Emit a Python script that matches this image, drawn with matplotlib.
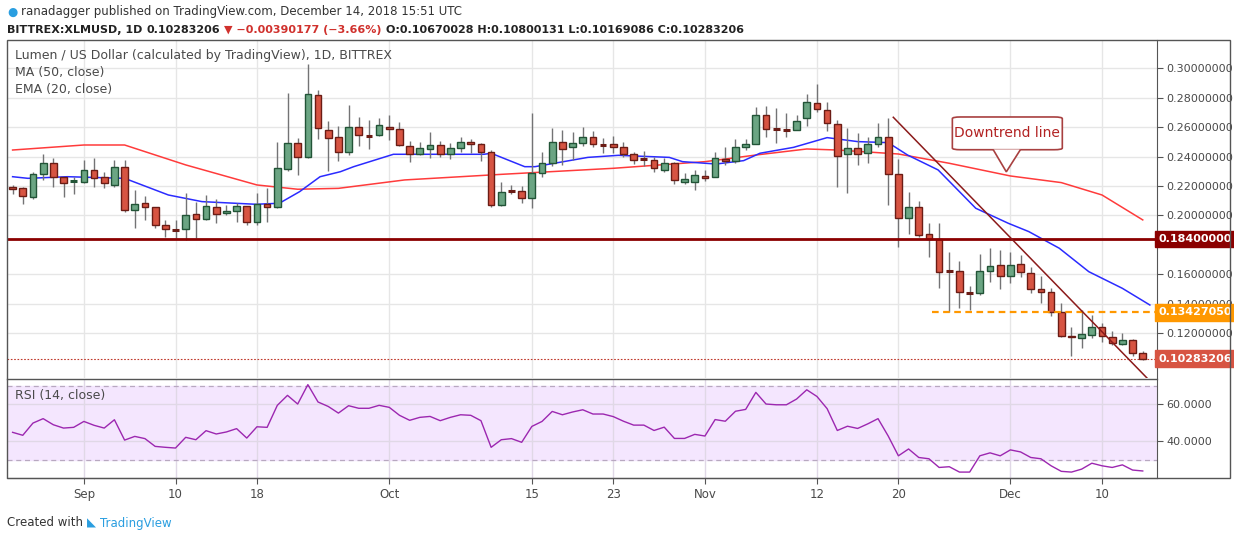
import matplotlib
matplotlib.use('Agg')
import matplotlib.pyplot as plt
from matplotlib.patches import Rectangle, FancyBboxPatch, Polygon
import numpy as np

# ---- data (daily candles, day 0 = Aug 25 2018) --------------------------------
opens = [.2193,.2184,.2123,.2279,.2354,.2259,.2227,.2225,.2309,.2259,
         .2207,.2327,.2037,.2083,.2055,.1933,.1906,.1906,.2010,.1974,
         .2055,.2015,.2033,.2065,.1958,.2078,.2060,.2313,.2489,.2394,
         .2817,.2580,.2535,.2433,.2598,.2541,.2546,.2598,.2584,.2471,
         .2417,.2449,.2476,.2417,.2455,.2501,.2483,.2433,.2069,.2169,
         .2169,.2117,.2286,.2358,.2496,.2462,.2489,.2530,.2480,.2483,
         .2462,.2415,.2383,.2376,.2309,.2354,.2230,.2230,.2268,.2259,
         .2381,.2372,.2462,.2483,.2682,.2591,.2582,.2580,.2659,.2765,
         .2715,.2620,.2417,.2455,.2422,.2485,.2530,.2279,.1981,.2055,
         .1875,.1839,.1628,.1626,.1475,.1472,.1626,.1665,.1592,.1669,
         .1608,.1500,.1479,.1344,.1185,.1167,.1190,.1247,.1179,.1127,
         .1156,.10670028]
highs = [.2207,.2196,.2297,.2417,.2388,.2263,.2263,.2376,.2388,.2297,
         .2376,.2376,.2173,.2132,.2060,.1970,.1970,.2150,.2094,.2139,
         .2110,.2071,.2087,.2065,.2155,.2184,.2501,.2828,.2523,.3030,
         .2851,.2643,.2607,.2749,.2666,.2648,.2659,.2682,.2636,.2505,
         .2501,.2569,.2507,.2489,.2535,.2517,.2494,.2444,.2230,.2207,
         .2200,.2697,.2433,.2591,.2580,.2569,.2602,.2575,.2523,.2539,
         .2501,.2433,.2440,.2399,.2388,.2365,.2290,.2309,.2309,.2433,
         .2462,.2517,.2517,.2738,.2743,.2727,.2697,.2682,.2824,.2892,
         .2772,.2648,.2591,.2562,.2535,.2625,.2659,.2381,.2162,.2101,
         .1947,.1952,.1755,.1692,.1522,.1739,.1778,.1766,.1755,.1732,
         .1649,.1590,.1506,.1409,.1242,.1359,.1325,.1274,.1219,.1206,
         .1161,.10800131]
lows = [.2146,.2076,.2110,.2241,.2196,.2123,.2146,.2223,.2191,.2184,
        .2196,.2026,.1913,.1970,.1913,.1857,.1845,.1834,.1845,.1970,
        .1947,.2004,.1958,.1936,.1936,.1958,.2049,.2304,.2275,.2388,
        .2517,.2304,.2372,.2410,.2471,.2449,.2539,.2512,.2471,.2365,
        .2410,.2388,.2394,.2381,.2433,.2426,.2372,.2060,.2065,.2146,
        .2087,.2049,.2263,.2336,.2343,.2376,.2471,.2462,.2426,.2426,
        .2399,.2349,.2336,.2297,.2297,.2214,.2214,.2173,.2236,.2259,
        .2343,.2358,.2444,.2483,.2535,.2494,.2535,.2580,.2607,.2704,
        .2575,.2196,.2155,.2343,.2354,.2467,.2071,.1784,.1875,.1852,
        .1721,.1506,.1348,.1371,.1359,.1461,.1552,.1500,.1545,.1581,
        .1472,.1409,.1319,.1179,.1048,.1100,.1167,.1145,.1122,.1122,
        .1048,.10169086]
closes = [.2180,.2130,.2279,.2354,.2263,.2223,.2234,.2309,.2252,.2218,
          .2327,.2037,.2078,.2055,.1933,.1906,.1900,.2004,.1974,.2065,
          .2010,.2033,.2065,.1958,.2078,.2060,.2320,.2489,.2394,.2824,
          .2591,.2523,.2433,.2598,.2546,.2539,.2614,.2584,.2478,.2417,
          .2455,.2476,.2417,.2455,.2501,.2483,.2433,.2069,.2162,.2164,
          .2117,.2286,.2358,.2496,.2449,.2489,.2530,.2485,.2476,.2467,
          .2415,.2376,.2379,.2320,.2354,.2241,.2245,.2275,.2252,.2388,
          .2372,.2462,.2483,.2682,.2584,.2587,.2578,.2641,.2767,.2720,
          .2630,.2404,.2455,.2417,.2485,.2530,.2279,.1981,.2060,.1868,
          .1839,.1619,.1624,.1479,.1470,.1626,.1660,.1592,.1662,.1615,
          .1500,.1479,.1344,.1185,.1174,.1197,.1247,.1185,.1133,.1156,
          .1066,.10283206]

ma50_day = [0, 7, 11, 17, 24, 28, 32, 38.5, 48, 59, 68, 73, 78, 81, 87, 92, 98, 103, 107, 111]
ma50_val = [.2444,.2478,.2478,.2343,.2207,.2178,.2184,.2241,.2279,.2320,.2365,.2410,
            .2451,.2444,.2417,.2354,.2268,.2223,.2139,.1970]
ema20_day = [0, 1.5, 5.4, 11, 15.3, 18.6, 23.9, 26.2, 28.2, 30.2, 32.2, 33.5, 37.4, 46.3,
             47, 50.3, 51.3, 56.5, 59.5, 64.5, 65.8, 69.1, 71.8, 73.4, 76.7, 80, 83, 86,
             87.9, 90.9, 94.6, 97.8, 99.8, 102.8, 105.7, 109, 111.7]
ema20_val = [.2263,.2252,.2263,.2252,.2139,.2094,.2076,.2083,.2162,.2263,.2297,.2331,.2415,
             .2415,.2422,.2331,.2331,.2394,.2408,.2394,.2365,.2349,.2372,.2422,.2462,.2528,
             .2501,.2494,.2410,.2309,.2049,.1947,.1891,.1778,.1619,.1506,.1393]

rsi = [44.7,43.1,49.7,52.1,48.8,47.0,47.4,50.6,48.5,47.0,
       51.5,40.5,42.5,41.3,37.1,36.6,36.2,42.0,40.7,45.6,
       43.8,44.9,46.7,41.6,47.7,47.4,59.3,64.7,60.0,70.5,
       61.1,58.7,55.1,59.1,57.7,57.7,59.3,58.2,53.9,51.2,
       52.8,53.3,51.0,52.8,54.2,53.9,51.0,36.6,40.7,41.3,
       39.3,47.9,50.6,56.0,54.2,55.7,56.9,54.6,54.6,53.2,
       50.7,48.6,48.6,45.7,47.5,41.4,41.4,43.6,42.7,51.6,
       50.7,56.1,57.1,66.3,60.0,59.6,59.6,62.7,67.7,64.1,
       57.5,45.7,48.0,46.8,49.3,52.1,42.7,32.0,35.7,31.1,
       30.4,25.7,26.1,23.2,23.2,32.0,33.6,32.0,35.2,34.1,
       31.1,30.4,26.6,23.6,23.2,24.8,28.0,26.6,25.7,27.1,
       24.3,23.8]

tick_days = [7, 16, 24, 37, 51, 59, 68, 79, 87, 98, 107]
tick_labels = ['Sep', '10', '18', 'Oct', '15', '23', 'Nov', '12', '20', 'Dec', '10']
price_ticks = [0.12, 0.14, 0.16, 0.20, 0.22, 0.24, 0.26, 0.28, 0.30]

support = 0.184
breakdown = 0.13427050
last = closes[-1]
trend_day = [86.5, 111.6]
trend_val = [.2666, .0885]

# ---- figure ---------------------------------------------------------------------
W, H = 1234, 541
fig = plt.figure(figsize=(W / 100, H / 100), dpi=100)
fig.patch.set_facecolor('white')
def fr(x0, y0, x1, y1):  # pixel box -> figure fraction
    return [x0 / W, 1 - y1 / H, (x1 - x0) / W, (y1 - y0) / H]

ax = fig.add_axes(fr(7, 40, 1157, 378))
ar = fig.add_axes(fr(7, 380, 1157, 478), sharex=ax)
TXT = '#4a4a4a'
GRID = '#e6e6e6'
XL = (-0.55, 112.4)

# candles
days = np.arange(len(closes))
UP, UPE = '#6ba583', '#225437'
DN, DNE = '#d75442', '#6b1c15'
for d, o, h, l, c in zip(days, opens, highs, lows, closes):
    ax.vlines(d, l, h, color='#737375', lw=1.0, zorder=3)
    up = c >= o
    lo, hi = min(o, c), max(o, c)
    if hi - lo < 0.0008:
        ax.hlines((o + c) / 2, d - 0.33, d + 0.33, color=UPE if up else DNE, lw=2.2, zorder=4)
    else:
        ax.add_patch(Rectangle((d - 0.33, lo), 0.66, hi - lo, fc=UP if up else DN,
                               ec=UPE if up else DNE, lw=1.0, zorder=4))

ax.plot(ma50_day, ma50_val, color='#ff3b3b', lw=1.1, zorder=2)
ax.plot(ema20_day, ema20_val, color='#2b2bff', lw=1.1, zorder=2)
ax.axhline(support, color='#8b0000', lw=2.0, zorder=5)
ax.axhline(last, color='#c0392b', lw=0.8, ls=(0, (1.5, 1.5)), zorder=2)
ax.hlines(breakdown, 90.3, XL[1], color='#ff9800', lw=1.6, ls=(0, (3, 2)), zorder=5)
ax.plot(trend_day, trend_val, color='#8b1a1a', lw=1.1, zorder=5)

# callout
ax.add_patch(FancyBboxPatch((92.3, .2446), 10.8, .0222,
                            boxstyle='round,pad=0,rounding_size=0.8', mutation_aspect=0.0014,
                            fc='white', ec='#a84040', lw=1.2, zorder=6))
ax.add_patch(Polygon([[96.3, .2448], [97.6, .2296], [99.0, .2448]], closed=False,
                     fc='white', ec='#a84040', lw=1.2, zorder=7))
ax.text(97.7, .2557, 'Downtrend line', color='#b22222', fontsize=10, ha='center',
        va='center', zorder=8)

ax.set_xlim(*XL)
ax.set_ylim(0.0898, 0.3190)
ax.yaxis.tick_right()
ax.set_yticks(price_ticks)
ax.yaxis.set_major_formatter(matplotlib.ticker.FormatStrFormatter('%.8f'))
ax.tick_params(axis='y', length=4, labelsize=8, labelcolor=TXT, color='#555555', pad=3)
ax.tick_params(axis='x', length=0, labelbottom=False)
ax.set_xticks(tick_days)
ax.grid(True, color=GRID, lw=1.0, zorder=0)
ax.set_axisbelow(True)
for s in ['left', 'top', 'bottom']:
    ax.spines[s].set_visible(False)
ax.spines['right'].set_color('#555555')

for val, fc in [(support, '#8b0000'), (breakdown, '#ff9800'), (last, '#d75442')]:
    ax.text(1.0015, val, f'{val:.8f}', transform=ax.get_yaxis_transform(), color='white',
            fontsize=8, fontweight='bold', va='center', ha='left', zorder=10, clip_on=False,
            bbox=dict(boxstyle='square,pad=0.3', fc=fc, ec=fc))

ax.text(0.007, 0.955, 'Lumen / US Dollar (calculated by TradingView), 1D, BITTREX',
        transform=ax.transAxes, fontsize=9, color=TXT, va='center')
ax.text(0.007, 0.905, 'MA (50, close)', transform=ax.transAxes, fontsize=9, color=TXT, va='center')
ax.text(0.007, 0.855, 'EMA (20, close)', transform=ax.transAxes, fontsize=9, color=TXT, va='center')

# RSI
ar.axhspan(30, 70, color='#f4e6fe', zorder=0)
ar.axhline(70, color='#b8a8c0', lw=0.9, ls=(0, (4, 3)))
ar.axhline(30, color='#b8a8c0', lw=0.9, ls=(0, (4, 3)))
ar.plot(days, rsi, color='#9c27b0', lw=1.0, zorder=3)
ar.set_ylim(20, 73)
ar.yaxis.tick_right()
ar.set_yticks([40, 60])
ar.yaxis.set_major_formatter(matplotlib.ticker.FormatStrFormatter('%.4f'))
ar.tick_params(axis='y', length=4, labelsize=8, labelcolor=TXT, color='#555555', pad=3)
ar.set_xticks(tick_days)
ar.set_xticklabels(tick_labels)
ar.tick_params(axis='x', length=4, labelsize=8.5, labelcolor=TXT, color='#555555')
ar.grid(True, color='#e0d8e6', lw=1.0)
ar.set_axisbelow(True)
ar.spines['left'].set_visible(False)
ar.spines['top'].set_visible(False)
for s in ['right', 'bottom']:
    ar.spines[s].set_color('#555555')
ar.text(0.007, 0.84, 'RSI (14, close)', transform=ar.transAxes, fontsize=9, color=TXT, va='center')

# outer frame
fig.add_artist(Rectangle((7 / W, 1 - 478 / H), (1230 - 7) / W, (478 - 40) / H,
                         transform=fig.transFigure, fill=False, ec='#555555', lw=1.0))
fig.add_artist(plt.Line2D([7 / W, 1157 / W], [1 - 379 / H] * 2, color='#555555', lw=1.0))

# header / footer: pieces placed one after another
fig.canvas.draw()
rend = fig.canvas.get_renderer()
def chain(x_px, y_px, parts, **kw):
    x = x_px
    for s, col in parts:
        t = fig.text(x / W, 1 - y_px / H, s, color=col, va='center', **kw)
        x = t.get_window_extent(rend).x1 + 4

chain(7, 12, [('●', '#2a9ee0'), ('ranadagger published on TradingView.com, December 14, 2018 15:51 UTC', '#333333')],
      fontsize=8.5)
chain(7, 30, [('BITTREX:XLMUSD, 1D', '#222222'), ('0.10283206', '#222222'),
              ('▼ −0.00390177 (−3.66%)', '#d0312d'),
              ('O:0.10670028 H:0.10800131 L:0.10169086 C:0.10283206', '#222222')],
      fontsize=8, fontweight='bold')
chain(7, 523, [('Created with', '#333333'), ('◣', '#2a9ee0'), ('TradingView', '#2a9ee0')], fontsize=8.5)

fig.savefig('out.png', dpi=100)
